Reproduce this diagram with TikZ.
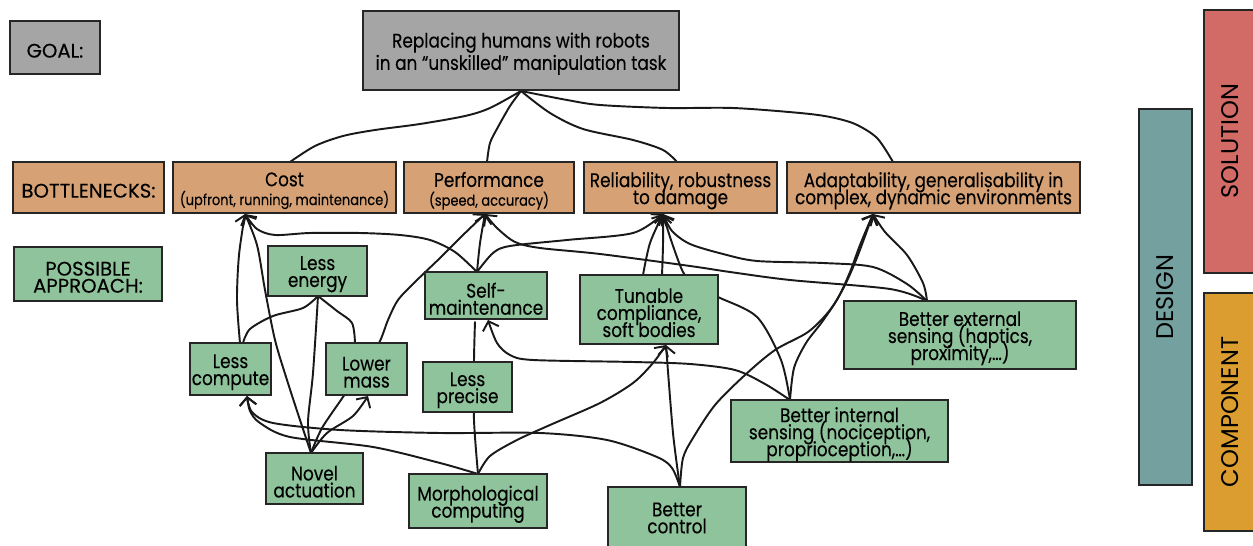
\documentclass[tikz,border=0pt]{standalone}
\usepackage{fontspec}
\setmainfont{Poppins}[FakeStretch=0.86,FakeBold=0.2]
\newfontfamily\capsfont{Poppins}[FakeBold=0.2]
\newfontfamily\vertfont{Poppins}
\usetikzlibrary{arrows.meta,backgrounds}
\definecolor{cgray}{HTML}{A5A5A5}
\definecolor{ctan}{HTML}{D5A175}
\definecolor{cgreen}{HTML}{8FC39B}
\definecolor{cteal}{HTML}{74A19F}
\definecolor{cred}{HTML}{D26A65}
\definecolor{camber}{HTML}{DB9D30}
\newcommand\bx[7]{%
  \node[#6, minimum width=\fpeval{(#4-#2)*0.02}cm, minimum height=\fpeval{(#5-#3)*0.02}cm] (#1) at ({(#2+#4)/2},{(#3+#5)/2}) {};
  \node[#6, draw=none, fill=none, minimum width=0pt, minimum height=0pt] (#1t) at ([yshift=-0.065cm]#1.center) {#7};}
\newcommand\smalltext{\fontsize{8.6}{9}\selectfont}
\begin{document}
\lineskiplimit=-20pt
\lineskip=0pt
\begin{tikzpicture}[x=0.02cm,y=-0.02cm,
  box/.style={draw=black!85, line width=0.8pt, inner sep=0pt, outer sep=0pt, align=center, font=\fontsize{11.2}{9.7}\selectfont},
  gbox/.style={box, fill=cgray},
  tbox/.style={box, fill=ctan},
  nbox/.style={box, fill=cgreen},
  capbox/.style={font=\capsfont\fontsize{11.2}{9.7}\selectfont},
  vlabel/.style={rotate=90, font=\vertfont\fontsize{13.7}{15}\selectfont},
  cn/.style={line width=1.1pt, black!90, line cap=round, line join=round},
  tip/.style={-{Straight Barb[length=4.5pt,width=9.5pt,line width=1.1pt]}}
]
\useasboundingbox (0,0) rectangle (1253,546);
\clip (0,0) rectangle (1253,546);
% ---------- boxes
\bx{goallbl}{10}{21}{100}{74}{gbox,capbox}{GOAL:}
\bx{goal}{363}{11}{679}{90}{gbox, line width=1.2pt, font=\fontsize{11.2}{12.7}\selectfont}{Replacing humans with robots\\in an “unskilled” manipulation task}
\bx{botlbl}{13}{162}{164}{213}{tbox,capbox}{BOTTLENECKS:}
\bx{cost}{173}{162}{396}{213}{tbox}{Cost\\[1pt]{\smalltext(upfront, running, maintenance)}}
\bx{perf}{404}{162}{574}{213}{tbox}{Performance\\[1pt]{\smalltext(speed, accuracy)}}
\bx{rel}{584}{162}{777}{213}{tbox}{Reliability, robustness\\to damage}
\bx{ada}{787}{162}{1080}{213}{tbox}{Adaptability, generalisability in\\complex, dynamic environments}
\bx{applbl}{14}{247}{162}{301}{nbox,capbox}{POSSIBLE\\APPROACH:}
\bx{le}{268}{246}{367}{296}{nbox}{Less\\energy}
\bx{sm}{425}{272}{547}{319}{nbox}{Self-\\maintenance}
\bx{tu}{580}{275}{718}{344}{nbox}{Tunable\\compliance,\\soft bodies}
\bx{be}{844}{301}{1076}{369}{nbox}{Better external\\sensing (haptics,\\proximity,…)}
\bx{lc}{190}{343}{271}{395}{nbox}{Less\\compute}
\bx{lm}{326}{343}{407}{395}{nbox}{Lower\\mass}
\bx{lp}{423}{362}{512}{412}{nbox}{Less\\precise}
\bx{bi}{731}{400}{948}{462}{nbox}{Better internal\\sensing (nociception,\\proprioception,…)}
\bx{na}{266}{453}{363}{504}{nbox}{Novel\\actuation}
\bx{mc}{409}{474}{547}{528}{nbox}{Morphological\\computing}
\node[nbox, minimum width=2.76cm, minimum height=1.26cm] (bc) at (677,518.5) {};
\node[nbox, draw=none, fill=none] (bct) at (677,518) {Better\\control};
\node[box, fill=cteal, minimum width=1.06cm, minimum height=7.52cm] (des) at (1165.5,297) {};
\node[box, fill=cred, minimum width=1.08cm, minimum height=5.26cm] (sol) at (1231,141.5) {};
\node[box, fill=camber, minimum width=1.08cm, minimum height=4.76cm] (com) at (1231,412) {};
\node[vlabel] (desT) at (des.center) {DESIGN};
\node[vlabel] (solT) at (1230,141) {SOLUTION};
\node[vlabel] (comT) at (1230,412) {COMPONENT};
% ---------- connector end points
\coordinate (gS) at (521,91);
\coordinate (costN) at (290,162);
\coordinate (perfN) at (487,162);
\coordinate (relN) at (677,162);
\coordinate (adaN) at (893,162);
\coordinate (costT) at (245,214);
\coordinate (perfT) at (485,214);
\coordinate (relT) at (663,214);
\coordinate (adaT) at (873,214);
\coordinate (lcT) at (247,396);
\coordinate (lmT) at (368,396);
\coordinate (smT) at (488,320);
\coordinate (tuT) at (666,345);
\coordinate (leS) at (318,296);
\coordinate (lcN1) at (240,343);
\coordinate (lcN2) at (243,343);
\coordinate (naN) at (311,453);
\coordinate (smN) at (477,272);
\coordinate (lmNR) at (379,343);
\coordinate (lmNL) at (355,343);
\coordinate (beN) at (927,301);
\coordinate (biN) at (790,400);
\coordinate (bcN) at (680,487);
\coordinate (mcN) at (478,474);
\coordinate (tuN1) at (643,275);
\coordinate (tuN2) at (662,275);
\begin{pgfonlayer}{background}
% goal -> bottlenecks
\draw[cn] plot[smooth] coordinates {(gS) (490,108) (465,116) (420,124) (375,130) (343,136) (315,146) (costN)};
\draw[cn] plot[smooth] coordinates {(gS) (510,106) (498,127) (490,143) (perfN)};
\draw[cn] plot[smooth] coordinates {(gS) (550,113) (583,129) (633,140) (663,150) (relN)};
\draw[cn] plot[smooth] coordinates {(gS) (567,100) (600,105) (667,108) (733,108) (800,113) (830,117) (855,124) (877,138) (adaN)};
% into Cost
\draw[cn,tip] plot[smooth] coordinates {(lcN1) (237,300) (239,255) (costT)};
\draw[cn,tip] plot[smooth] coordinates {(naN) (300,420) (287,380) (275,340) (265,290) (257,245) (costT)};
\draw[cn,tip] plot[smooth] coordinates {(smN) (455,252) (430,240) (400,235) (360,233) (310,233) (275,235) (257,229) (costT)};
% into Performance
\draw[cn,tip] plot[smooth] coordinates {(smN) (480,243) (perfT)};
\draw[cn,tip] plot[smooth] coordinates {(naN) (322,428) (343,397) (361,370) (lmNR) (388,320) (398,300) (415,282) (440,258) (462,236) (perfT)};
\draw[cn,tip] plot[smooth] coordinates {(beN) (890,289) (790,280) (730,272) (690,266) (600,254) (540,248) (515,242) (497,228) (perfT)};
% into Reliability
\draw[cn,tip] plot[smooth] coordinates {(smN) (493,253) (510,246) (567,240) (633,233) (relT)};
\draw[cn,tip] plot[smooth] coordinates {(tuN1) (650,243) (relT)};
\draw[cn,tip] plot[smooth] coordinates {(tuN2) (663,245) (relT)};
\draw[cn,tip] plot[smooth] coordinates {(biN) (781,360) (757,317) (718,297) (695,285) (683,272) (671,240) (relT)};
\draw[cn,tip] plot[smooth] coordinates {(beN) (907,284) (873,267) (823,263) (757,261) (723,254) (690,244) (672,231) (relT)};
% into Adaptability
\draw[cn,tip] plot[smooth] coordinates {(beN) (923,283) (907,255) (885,232) (adaT)};
\draw[cn,tip] plot[smooth] coordinates {(biN) (794,368) (806,343) (822,322) (838,298) (850,272) (860,245) (adaT)};
\draw[cn,tip] plot[smooth] coordinates {(bcN) (683,458) (693,438) (715,405) (745,375) (775,350) (808,332) (830,310) (845,285) (858,255) (adaT)};
% into Less compute
\draw[cn,tip] plot[smooth] coordinates {(mcN) (440,463) (373,447) (290,437) (260,423) (250,411) (lcT)};
\draw[cn,tip] plot[smooth] coordinates {(bcN) (672,468) (657,457) (607,440) (540,433) (440,433) (340,430) (273,423) (252,412) (lcT)};
% into Lower mass
\draw[cn,tip] plot[smooth] coordinates {(naN) (327,433) (353,416) (lmT)};
% into Less energy
\draw[cn] plot[smooth] coordinates {(lcN2) (250,329) (273,316) (303,308) (leS)};
\draw[cn] plot[smooth] coordinates {(lmNL) (352,323) (337,311) (leS)};
\draw[cn] plot[smooth] coordinates {(naN) (308,422) (313,373) (leS)};
% into Self-maintenance
\draw[cn,tip] plot[smooth] coordinates {(biN) (765,384) (735,370) (690,364) (633,362) (533,360) (510,355) (497,343) (smT)};
\draw[cn] plot[smooth] coordinates {(mcN) (474,420) (474,360) (475,322)};
% into Tunable
\draw[cn,tip] plot[smooth] coordinates {(mcN) (490,456) (517,440) (550,425) (600,403) (633,383) (653,363) (tuT)};
\draw[cn,tip] plot[smooth] coordinates {(bcN) (673,433) (tuT)};
\end{pgfonlayer}
\end{tikzpicture}
\end{document}
